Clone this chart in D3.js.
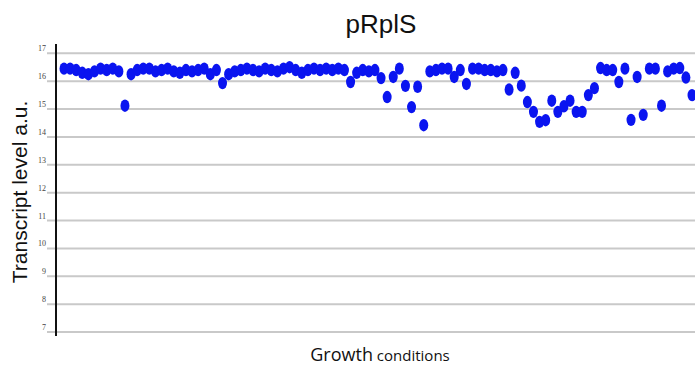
<!DOCTYPE html>
<html>
<head>
<meta charset="utf-8">
<script src="https://cdn.jsdelivr.net/npm/d3@7"></script>
<style>
  body { margin: 0; background: #fff; }
  svg { display: block; }
</style>
</head>
<body>
<script>
var width = 695
var height = 367

var title = 'pRplS'
var yLabel = 'Transcript level a.u.'
var yTicks = [7, 8, 9, 10, 11, 12, 13, 14, 15, 16, 17]

// one value per growth condition
var transcript = [
  16.45, 16.45, 16.4, 16.3, 16.25, 16.35, 16.45, 16.4, 16.45, 16.35,
  15.12, 16.25, 16.4, 16.45, 16.45, 16.35, 16.4, 16.45, 16.35, 16.3,
  16.4, 16.35, 16.4, 16.45, 16.25, 16.4, 15.93, 16.25, 16.35, 16.4,
  16.45, 16.4, 16.35, 16.45, 16.4, 16.35, 16.45, 16.5, 16.4, 16.3,
  16.4, 16.45, 16.4, 16.45, 16.4, 16.45, 16.4, 15.97, 16.3, 16.4,
  16.35, 16.4, 16.11, 15.43, 16.15, 16.45, 15.83, 15.07, 15.8, 14.42,
  16.35, 16.4, 16.45, 16.45, 16.15, 16.4, 15.9, 16.45, 16.45, 16.4,
  16.4, 16.35, 16.4, 15.7, 16.3, 15.84, 15.25, 14.9, 14.54, 14.6,
  15.3, 14.9, 15.1, 15.3, 14.9, 14.9, 15.5, 15.75, 16.47, 16.4,
  16.4, 15.97, 16.45, 14.61, 16.15, 14.79, 16.45, 16.45, 15.12, 16.35,
  16.45, 16.47, 16.13, 15.5
]

var svg = d3.select('body').append('svg')
  .attr('width', width)
  .attr('height', height)

var x = d3.scaleLinear()
  .domain([0, transcript.length - 1])
  .range([64, 692])

var y = d3.scaleLinear()
  .domain([7, 17])
  .range([332, 53.3])

// gridlines, running a little left of the axis like tick marks
svg.append('g')
  .selectAll('line')
  .data(yTicks)
  .enter()
  .append('line')
  .attr('x1', 47)
  .attr('x2', width)
  .attr('y1', (d) => { return y(d) })
  .attr('y2', (d) => { return y(d) })
  .style('stroke', '#c9c9c9')
  .style('stroke-width', 2)

svg.append('g')
  .selectAll('text')
  .data(yTicks)
  .enter()
  .append('text')
  .attr('x', 46)
  .attr('y', (d) => { return y(d) - 2 })
  .attr('text-anchor', 'end')
  .style('font-family', '"Liberation Serif", serif')
  .style('font-size', '8px')
  .style('fill', '#444')
  .text((d) => { return d })

// y axis line
svg.append('line')
  .attr('x1', 56)
  .attr('x2', 56)
  .attr('y1', 44)
  .attr('y2', 336)
  .style('stroke', '#111')
  .style('stroke-width', 2)

svg.append('g')
  .selectAll('ellipse')
  .data(transcript)
  .enter()
  .append('ellipse')
  .attr('cx', (d, i) => { return x(i) })
  .attr('cy', (d) => { return y(d) })
  .attr('rx', 4.5)
  .attr('ry', 6.2)
  .style('fill', '#0a14f0')

svg.append('text')
  .attr('x', 381)
  .attr('y', 33)
  .attr('text-anchor', 'middle')
  .style('font-family', '"Liberation Sans", Arial, sans-serif')
  .style('font-size', '26px')
  .style('fill', '#111')
  .text(title)

svg.append('text')
  .attr('transform', 'translate(27,' + 192 + ') rotate(-90)')
  .attr('text-anchor', 'middle')
  .style('font-family', '"Liberation Sans", Arial, sans-serif')
  .style('font-size', '21px')
  .style('fill', '#111')
  .text(yLabel)

var xLabel = svg.append('text')
  .attr('x', 380)
  .attr('y', 361)
  .attr('text-anchor', 'middle')
  .style('font-family', '"Open Sans", sans-serif')
  .style('fill', '#111')
xLabel.append('tspan').style('font-size', '18px').text('Growth')
xLabel.append('tspan').style('font-size', '15px').text(' conditions')
</script>
</body>
</html>
